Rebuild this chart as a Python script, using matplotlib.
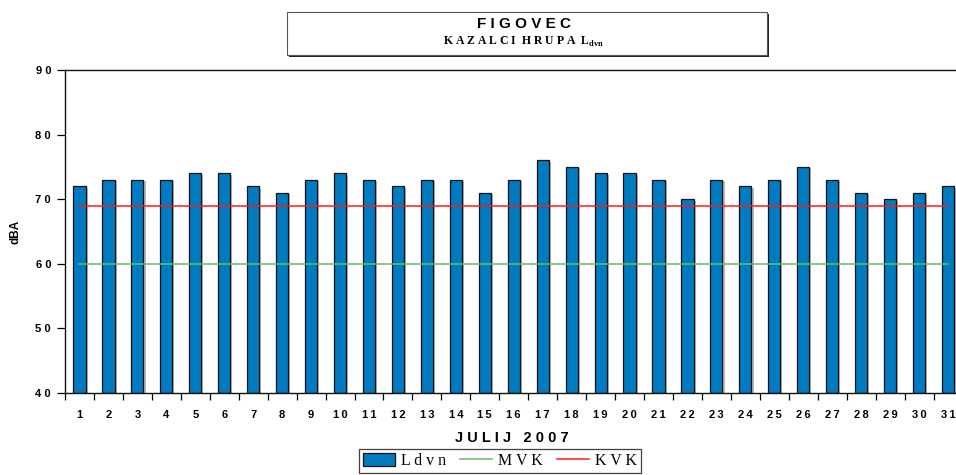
import matplotlib
matplotlib.use("Agg")
import matplotlib.pyplot as plt
import matplotlib.patheffects as pe
from matplotlib.patches import Rectangle
from matplotlib.lines import Line2D

plt.rcParams['font.family'] = ['Liberation Sans', 'DejaVu Sans']
plt.rcParams['mathtext.fontset'] = 'custom'
plt.rcParams['mathtext.rm'] = 'Liberation Serif:bold'
plt.rcParams['mathtext.bf'] = 'Liberation Serif:bold'

# data
days = list(range(1, 32))
ldvn = [72, 73, 73, 73, 74, 74, 72, 71, 73, 74, 73, 72, 73, 73, 71, 73,
        76, 75, 74, 74, 73, 70, 73, 72, 73, 75, 73, 71, 70, 71, 72]
mvk = [60] * 31
kvk = [69] * 31
yticks = [40, 50, 60, 70, 80, 90]

BLUE = '#007BC0'
W, H = 956, 475
fig = plt.figure(figsize=(W / 100, H / 100), dpi=100)
ax = fig.add_axes([65 / W, 1 - 393 / H, (962.5 - 65) / W, (393 - 70) / H])

bars = ax.bar(days, [v - 40 for v in ldvn], bottom=40, width=0.42,
              color=BLUE, edgecolor='#111111', linewidth=0.9, zorder=2)
for b in bars:
    b.set_path_effects([pe.SimplePatchShadow(offset=(1.5, -1), shadow_rgbFace='#888888', alpha=0.6),
                        pe.Normal()])
ax.plot(days, mvk, color='#66BB66', lw=1.1, zorder=3)
ax.plot(days, kvk, color='#FF1A1A', lw=1.1, zorder=3)

ax.set_xlim(0.5, 31.5)
ax.set_ylim(40, 90)
ax.set_yticks(yticks)
ax.set_yticklabels([" ".join(str(t)) for t in yticks], fontsize=8, fontweight='bold')
ax.set_xticks(days)
ax.set_xticklabels(["\u2009".join(str(d)) for d in days], fontsize=8, fontweight='bold')
ax.set_xticks([d + 0.5 for d in range(0, 31)], minor=True)
ax.tick_params(axis='x', which='major', length=0, pad=12)
ax.tick_params(axis='x', which='minor', length=5, direction='out', width=0.9)
ax.tick_params(axis='y', length=6, direction='out', width=0.9, pad=4)
ax.spines['right'].set_visible(False)
for s in ['left', 'bottom', 'top']:
    ax.spines[s].set_linewidth(1.0)
    ax.spines[s].set_color('#111111')

ax.set_ylabel('dBA', fontsize=8.5, fontweight='bold')
ax.yaxis.set_label_coords(-44 / (962.5 - 65), 0.5)
fig.text(512 / W, 1 - 438 / H, 'J U L I J   2 0 0 7', ha='center', va='center',
         fontsize=10.5, fontweight='bold')

# title box
fig.patches.append(Rectangle((289 / W, 1 - 57 / H), 480 / W, 43 / H, transform=fig.transFigure,
                             facecolor='#222222', edgecolor='none', zorder=1))
fig.patches.append(Rectangle((287 / W, 1 - 55 / H), 480 / W, 43 / H, transform=fig.transFigure,
                             facecolor='white', edgecolor='#555555', lw=0.8, zorder=2))
fig.text(524 / W, 1 - 24 / H, 'F I G O V E C', ha='center', va='center',
         fontsize=11, fontweight='bold', zorder=3)
fig.text(523 / W, 1 - 42 / H, r'K A Z A L C I  H R U P A  L$_{\mathbf{dvn}}$', ha='center',
         va='center', fontsize=8.5, fontweight='bold', family='Liberation Serif', zorder=3)

handles = [Rectangle((0, 0), 1, 1, facecolor=BLUE, edgecolor='#111111', lw=0.9),
           Line2D([], [], color='#66BB66', lw=1.1),
           Line2D([], [], color='#FF1A1A', lw=1.1)]
leg = fig.legend(handles, ['L d v n', 'M V K', 'K V K'], loc='upper center',
                 bbox_to_anchor=(500 / W, 1 - 449 / H), ncol=3, frameon=True,
                 fancybox=False, prop={'family': 'Liberation Serif', 'size': 11.5},
                 handlelength=2.0, handleheight=0.8, columnspacing=0.9, handletextpad=0.35,
                 borderpad=0.25, borderaxespad=0)
leg.get_frame().set_edgecolor('#111111')
leg.get_frame().set_linewidth(0.9)

fig.savefig('out.png', dpi=100)
